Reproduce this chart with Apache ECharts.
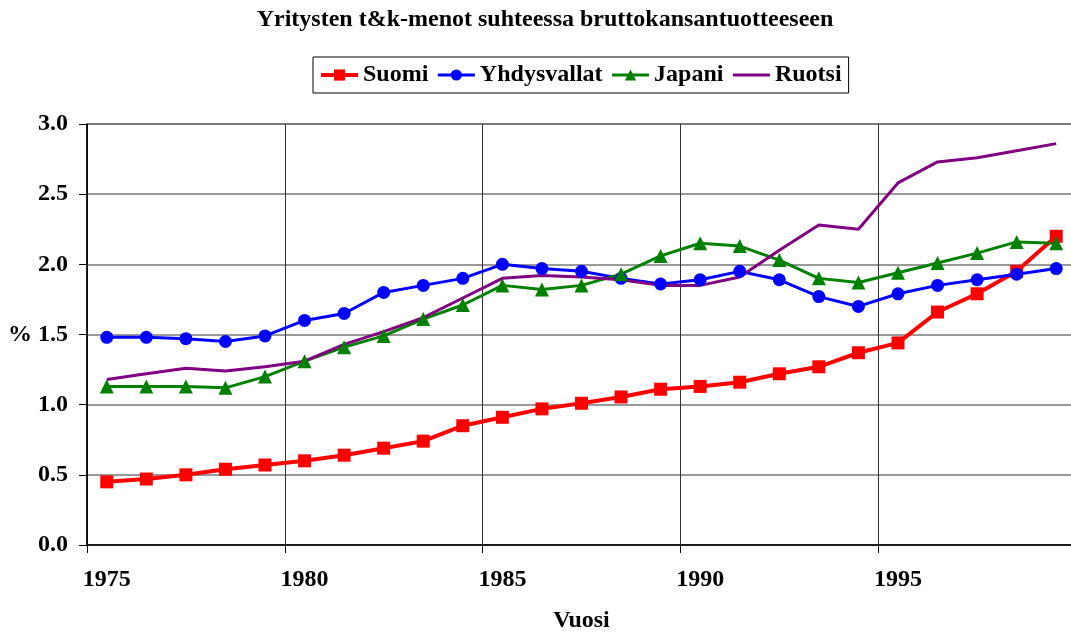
<!DOCTYPE html>
<html>
<head>
<meta charset="utf-8">
<script src="https://cdn.jsdelivr.net/npm/echarts@6/dist/echarts.min.js"></script>
<style>
html,body{margin:0;padding:0;background:#fff;}
#chart{width:1071px;height:633px;}
</style>
</head>
<body>
<div id="chart"></div>
<script>
var years = ['1975','1976','1977','1978','1979','1980','1981','1982','1983','1984','1985','1986','1987','1988','1989','1990','1991','1992','1993','1994','1995','1996','1997','1998','1999'];
var suomi = [0.45,0.47,0.50,0.54,0.57,0.60,0.64,0.69,0.74,0.85,0.91,0.97,1.01,1.055,1.11,1.13,1.16,1.22,1.27,1.37,1.44,1.66,1.79,1.95,2.20];
var yhdysvallat = [1.48,1.48,1.47,1.45,1.49,1.60,1.65,1.80,1.85,1.90,2.00,1.97,1.95,1.90,1.86,1.89,1.95,1.89,1.77,1.70,1.79,1.85,1.89,1.93,1.97];
var japani = [1.13,1.13,1.13,1.12,1.20,1.31,1.41,1.49,1.61,1.71,1.85,1.82,1.85,1.93,2.06,2.15,2.13,2.03,1.90,1.87,1.94,2.01,2.08,2.16,2.15];
var ruotsi = [1.18,1.22,1.26,1.24,1.27,1.31,1.43,1.52,1.62,1.76,1.90,1.92,1.91,1.89,1.85,1.85,1.91,2.10,2.28,2.25,2.58,2.73,2.76,2.81,2.86];
var seriesNames = ['Suomi','Yhdysvallat','Japani','Ruotsi'];
var titleText = 'Yritysten t&k-menot suhteessa bruttokansantuotteeseen';
var xName = 'Vuosi';
var yName = '%';

var FONT = '"Liberation Serif", "Times New Roman", serif';
var FS = 24;
var chart = echarts.init(document.getElementById('chart'), null, {renderer: 'canvas'});
var option = {
  animation: false,
  backgroundColor: '#fff',
  title: {
    text: titleText,
    left: 540, top: 3, textAlign: 'center',
    textStyle: {fontFamily: FONT, fontWeight: 'bold', fontSize: FS, color: '#000'}
  },
  legend: {
    data: [
      {name: seriesNames[0], lineStyle: {width: 4}},
      {name: seriesNames[1], lineStyle: {width: 3}},
      {name: seriesNames[2], lineStyle: {width: 3}},
      {name: seriesNames[3], lineStyle: {width: 3}, itemStyle: {opacity: 0}}
    ],
    left: 313, top: 57,
    padding: [6, 7, 6, 6],
    borderColor: '#000', borderWidth: 1,
    itemWidth: 37, itemHeight: 14, itemGap: 8,
    textStyle: {fontFamily: FONT, fontWeight: 'bold', fontSize: FS, color: '#000'}
  },
  grid: {
    left: 87, top: 124, bottom: 88, right: -5,
    outerBoundsMode: 'none', containLabel: false,
    show: true, borderColor: '#000', borderWidth: 1, backgroundColor: 'transparent'
  },
  xAxis: {
    type: 'category', data: years, boundaryGap: true,
    name: xName, nameLocation: 'middle', nameGap: 64,
    nameTextStyle: {fontFamily: FONT, fontWeight: 'bold', fontSize: FS, color: '#000'},
    axisLine: {lineStyle: {color: '#000', width: 1.5}},
    axisTick: {show: true, interval: 4, length: 8, lineStyle: {color: '#000'}},
    axisLabel: {interval: 4, margin: 23, fontFamily: FONT, fontWeight: 'bold', fontSize: FS, color: '#000'},
    splitLine: {show: true, interval: 4, lineStyle: {color: '#333', width: 1}}
  },
  yAxis: {
    type: 'value', min: 0, max: 3, interval: 0.5,
    name: yName, nameLocation: 'middle', nameRotate: 0, nameGap: 55,
    nameTextStyle: {fontFamily: FONT, fontWeight: 'bold', fontSize: FS, color: '#000'},
    axisLine: {show: true, lineStyle: {color: '#000', width: 1.5}},
    axisTick: {show: true, length: 8, lineStyle: {color: '#000'}},
    axisLabel: {margin: 19, fontFamily: FONT, fontWeight: 'bold', fontSize: FS, color: '#000',
      formatter: function (v) { return v.toFixed(1); }},
    splitLine: {show: true, lineStyle: {color: '#777', width: 1.5}}
  },
  series: [
    {name: seriesNames[0], type: 'line', data: suomi, symbol: 'rect', symbolSize: 13,
      itemStyle: {color: '#ff0000'}, lineStyle: {color: '#ff0000', width: 4}},
    {name: seriesNames[1], type: 'line', data: yhdysvallat, symbol: 'circle', symbolSize: 13,
      itemStyle: {color: '#0000ff'}, lineStyle: {color: '#0000ff', width: 3}},
    {name: seriesNames[2], type: 'line', data: japani, symbol: 'triangle', symbolSize: 14,
      itemStyle: {color: '#008000'}, lineStyle: {color: '#008000', width: 3}},
    {name: seriesNames[3], type: 'line', data: ruotsi, symbol: 'none',
      itemStyle: {color: '#800080'}, lineStyle: {color: '#800080', width: 3}}
  ]
};
chart.setOption(option);
</script>
</body>
</html>
